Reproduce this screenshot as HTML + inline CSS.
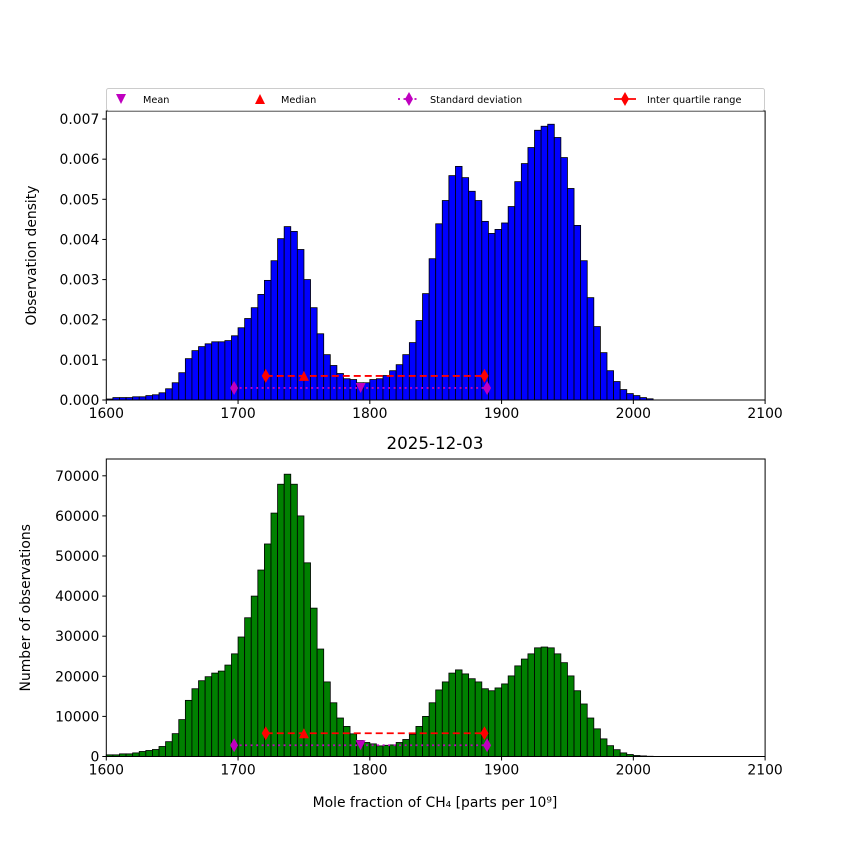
<!DOCTYPE html>
<html><head><meta charset="utf-8"><style>
body{margin:0;background:#fff}
svg{display:block;font-family:"DejaVu Sans","Liberation Sans",sans-serif}
</style></head><body>
<svg id="chart" width="850" height="850" viewBox="0 0 850 850"></svg>
<script>
const binStarts=[1600,1605,1610,1615,1620,1625,1630,1635,1640,1645,1650,1655,1660,1665,1670,1675,1680,1685,1690,1695,1700,1705,1710,1715,1720,1725,1730,1735,1740,1745,1750,1755,1760,1765,1770,1775,1780,1785,1790,1795,1800,1805,1810,1815,1820,1825,1830,1835,1840,1845,1850,1855,1860,1865,1870,1875,1880,1885,1890,1895,1900,1905,1910,1915,1920,1925,1930,1935,1940,1945,1950,1955,1960,1965,1970,1975,1980,1985,1990,1995,2000,2005,2010];
const densityValues=[0.000025,0.00006,0.00006,0.00006,0.00008,0.00008,0.00011,0.00013,0.00018,0.00028,0.00043,0.00068,0.00103,0.00123,0.00133,0.0014,0.00145,0.00145,0.00148,0.0016,0.0018,0.00203,0.0023,0.00263,0.00298,0.00347,0.00402,0.00432,0.0042,0.00375,0.003,0.0023,0.00165,0.00113,0.00086,0.00066,0.00053,0.00051,0.00043,0.00043,0.00051,0.00053,0.00061,0.00073,0.00088,0.00113,0.00143,0.00198,0.00265,0.00352,0.00439,0.00497,0.00559,0.00582,0.00554,0.0052,0.00497,0.00445,0.00415,0.00425,0.00441,0.00482,0.00544,0.00589,0.00629,0.00672,0.00682,0.00687,0.00654,0.00604,0.00527,0.00435,0.00347,0.00255,0.00183,0.00118,0.00073,0.00046,0.00026,0.00016,0.00011,0.00006,0.00003];
const countValues=[415,415,660,660,900,1250,1500,1750,2500,3700,5700,9200,14000,16900,18900,19900,20800,21300,22800,25600,29800,34600,40000,46500,53000,60700,67900,70400,67900,60000,48300,37000,26800,18600,13400,9600,7500,5650,4000,3500,3150,2650,2800,2900,3500,4250,5500,7500,10000,13400,16600,18600,20800,21600,20600,19400,18600,16900,16400,17100,18100,20100,22600,24300,25600,27100,27300,27100,25600,23400,20100,16400,13100,9600,6900,4400,2700,1700,900,500,250,150,60];
const xTicks=[1600,1700,1800,1900,2000,2100];
const topYTicks=[0,0.001,0.002,0.003,0.004,0.005,0.006,0.007];
const topYLabels=["0.000","0.001","0.002","0.003","0.004","0.005","0.006","0.007"];
const botYTicks=[0,10000,20000,30000,40000,50000,60000,70000];
const statMean=1793, statMedian=1750, statStd=[1697,1889], statIqr=[1721,1887];
const topMarkY={iqr:0.0006,std:0.0003}, botMarkY={iqr:5800,std:2800};

const svg=document.getElementById('chart');
const NS='http://www.w3.org/2000/svg';
function mk(tag,attrs,parent){const e=document.createElementNS(NS,tag);for(const k in attrs)e.setAttribute(k,attrs[k]);(parent||svg).appendChild(e);return e;}
const X0=106.3,X1=765.1;
const xs=v=>X0+(v-1600)*(X1-X0)/500;

function panel(name,top,bottom,ymax,values,color,yTicks,yLabels,ylabel,ylabelX,marks){
  const g=mk('g',{});
  
  
  const ys=v=>bottom-v*(bottom-top)/ymax;
  values.forEach((v,i)=>{
    const r=mk('rect',{x:xs(binStarts[i]),y:ys(v),width:xs(binStarts[i]+5)-xs(binStarts[i]),height:bottom-ys(v),fill:color,stroke:'#000','stroke-width':0.8},g);
    
    
  });
  const sy=ys(marks.std), iy=ys(marks.iqr);
  const sl=mk('line',{x1:xs(statStd[0]),x2:xs(statStd[1]),y1:sy,y2:sy,stroke:'#bf00bf','stroke-width':1.8,'stroke-dasharray':'2,3.5'},g);
  
  
  const il=mk('line',{x1:xs(statIqr[0]),x2:xs(statIqr[1]),y1:iy,y2:iy,stroke:'#f00','stroke-width':1.8,'stroke-dasharray':'7,4'},g);
  
  
  statStd.forEach(v=>{const d=mk('polygon',{points:diamond(xs(v),sy),fill:'#bf00bf'},g);
    
    });
  statIqr.forEach(v=>{const d=mk('polygon',{points:diamond(xs(v),iy),fill:'#f00'},g);
    
    });
  const mx=xs(statMedian);
  const med=mk('polygon',{points:`${mx-5},${iy+5} ${mx+5},${iy+5} ${mx},${iy-5}`,fill:'#f00'},g);
  
  
  const mn=xs(statMean);
  const mean=mk('polygon',{points:`${mn-5},${sy-5} ${mn+5},${sy-5} ${mn},${sy+5}`,fill:'#bf00bf'},g);
  
  
  mk('rect',{x:X0,y:top,width:X1-X0,height:bottom-top,fill:'none',stroke:'#000','stroke-width':1},g);
  xTicks.forEach(t=>{
    mk('line',{x1:xs(t),x2:xs(t),y1:bottom,y2:bottom+4,stroke:'#000'},g);
    const tx=mk('text',{x:xs(t),y:bottom+18,'font-size':13.9,'text-anchor':'middle'},g);
    tx.textContent=t;
    
    
  });
  yTicks.forEach((t,i)=>{
    mk('line',{x1:X0-4,x2:X0,y1:ys(t),y2:ys(t),stroke:'#000'},g);
    const tx=mk('text',{x:X0-7,y:ys(t)+5,'font-size':13.9,'text-anchor':'end'},g);
    tx.textContent=yLabels[i];
    
    
  });
  const yl=mk('text',{x:0,y:0,'font-size':13.9,'text-anchor':'middle',transform:`translate(${ylabelX},${(top+bottom)/2}) rotate(-90)`},g);
  yl.textContent=ylabel;
  
  
}
function diamond(x,y){return `${x},${y-7} ${x+4},${y} ${x},${y+7} ${x-4},${y}`;}

panel('density-panel',111,400,0.0072,densityValues,'#0000ff',topYTicks,topYLabels,'Observation density',36,topMarkY);
panel('count-panel',459,756.5,74190,countValues,'#008000',botYTicks,botYTicks.map(String),'Number of observations',30,botMarkY);
</script>
<svg style="position:absolute;left:0;top:0" width="850" height="850">
<g font-family="DejaVu Sans, Liberation Sans, sans-serif" font-size="9.7">
<rect x="106.5" y="88.5" width="658" height="22" fill="#fff" stroke="#ccc" rx="2"/>
<polygon points="116,94 126,94 121,104" fill="#bf00bf"/>
<text x="143" y="103">Mean</text>
<polygon points="255,104 265,104 260,94" fill="#f00"/>
<text x="281" y="103">Median</text>
<line x1="398" x2="420" y1="99" y2="99" stroke="#bf00bf" stroke-width="1.8" stroke-dasharray="2,3.5"/>
<polygon points="409,92 413,99 409,106 405,99" fill="#bf00bf"/>
<text x="430" y="103">Standard deviation</text>
<line x1="614" x2="636" y1="99" y2="99" stroke="#f00" stroke-width="1.8"/>
<polygon points="625,92 629,99 625,106 621,99" fill="#f00"/>
<text x="647" y="103">Inter quartile range</text>
</g>
<text x="435" y="449" font-size="16.7" text-anchor="middle" font-family="DejaVu Sans, Liberation Sans, sans-serif">2025-12-03</text>
<text x="435" y="807" font-size="13.9" text-anchor="middle" font-family="DejaVu Sans, Liberation Sans, sans-serif">Mole fraction of CH₄ [parts per 10⁹]</text>
</svg>
</body></html>
